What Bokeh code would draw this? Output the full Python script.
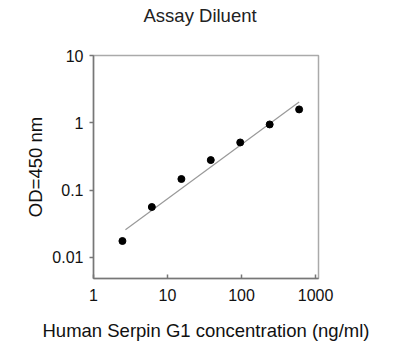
from bokeh.plotting import figure
from bokeh.models import FixedTicker, NumeralTickFormatter, Title
from bokeh.embed import file_html
from bokeh.resources import INLINE

# Data
concentration = [2.46, 6.14, 15.4, 38.4, 96, 240, 600]          # ng/ml
od450 = [0.0175, 0.056, 0.146, 0.279, 0.51, 0.945, 1.58]          # OD at 450 nm
fit_x = [2.7, 600]
fit_y = [0.0257, 2.03]
x_ticks = [1, 10, 100, 1000]
y_ticks = [0.01, 0.1, 1, 10]
title_text = "Assay Diluent"

FONT = "Liberation Sans"

p = figure(width=400, height=351, x_axis_type="log", y_axis_type="log",
           x_range=(1, 1096), y_range=(0.00485, 10),
           output_backend="svg", toolbar_location=None)
p.min_border_left = 93
p.min_border_right = 82
p.min_border_top = 55
p.min_border_bottom = 73
p.background_fill_color = "white"
p.border_fill_color = "white"
p.outline_line_color = "#aaaaaa"
p.outline_line_width = 1.5
p.xgrid.visible = False
p.ygrid.visible = False

# spacer between the title and the frame
p.add_layout(Title(text=" ", text_font_size="10px", standoff=17), "above")

p.title.text = title_text
p.title.text_font = FONT
p.title.text_font_size = "18.5px"
p.title.text_font_style = "normal"
p.title.text_color = "#222222"
p.title.align = "left"
p.title.offset = 50
p.title.standoff = 0
p.title.vertical_align = "bottom"

for ax in (p.xaxis[0], p.yaxis[0]):
    ax.axis_line_color = "#777777"
    ax.axis_line_width = 1.5
    ax.major_tick_line_color = "#777777"
    ax.major_tick_line_width = 1.5
    ax.minor_tick_line_color = None
    ax.major_label_text_font = FONT
    ax.major_label_text_font_size = "16px"
    ax.major_label_text_color = "#111111"
    ax.axis_label_text_font = FONT
    ax.axis_label_text_font_size = "18.5px"
    ax.axis_label_text_font_style = "normal"
    ax.axis_label_text_color = "#111111"

xa = p.xaxis[0]
xa.ticker = FixedTicker(ticks=x_ticks)
xa.formatter = NumeralTickFormatter(format="0")
xa.major_tick_in = 4
xa.major_tick_out = 0
xa.major_label_standoff = 10
xa.axis_label = "Human Serpin G1 concentration (ng/ml)"
xa.axis_label_standoff = 16

ya = p.yaxis[0]
ya.ticker = FixedTicker(ticks=y_ticks)
ya.formatter = NumeralTickFormatter(format="0.[00]")
ya.major_tick_in = 0
ya.major_tick_out = 4
ya.major_label_standoff = 6
ya.axis_label = "OD=450 nm"
ya.axis_label_standoff = 3

p.line(fit_x, fit_y, line_color="#999999", line_width=1.2)
p.scatter(concentration, od450, size=7, fill_color="black", line_color="black")

open("out.html", "w").write(file_html(p, INLINE))
